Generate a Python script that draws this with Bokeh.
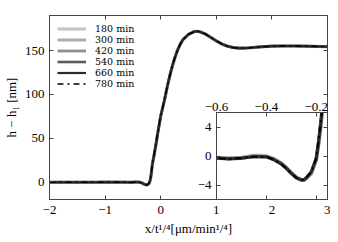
from bokeh.plotting import figure
from bokeh.models import LinearAxis, FixedTicker, Range1d, GridBox, Legend, LegendItem, Column
from bokeh.embed import file_html
from bokeh.resources import INLINE

# ---------------- data ----------------
xs = [-2.0, -1.8, -1.6, -1.4, -1.2, -1.0, -0.8, -0.6,
      -0.55, -0.5, -0.45, -0.4,
      -0.37, -0.34, -0.32, -0.30, -0.28, -0.26, -0.25, -0.24, -0.22, -0.20,
      -0.19, -0.18, -0.17, -0.15, -0.12, -0.09, -0.06, -0.03, 0.0,
      0.03, 0.06, 0.09, 0.12, 0.16, 0.20, 0.25, 0.30, 0.35, 0.40,
      0.50, 0.60, 0.65, 0.70, 0.80, 0.90, 1.00,
      1.10, 1.20, 1.30, 1.40, 1.50, 1.60, 1.80, 2.00,
      2.20, 2.40, 2.60, 2.80, 3.00]

h180 = [-0.3, -0.2, -0.3, -0.2, -0.3, -0.2, -0.1, -0.2,
        -0.4, -0.3, 0.1, 0.0,
        -0.4, -1.0, -1.6, -2.3, -2.9, -3.25, -3.3, -3.1, -2.4, -0.6,
        1.8, 4.6, 9.0, 20, 30, 41, 53, 64, 75,
        83, 91, 100, 109, 120, 130, 141, 150, 157, 162.5,
        168.5, 171.5, 172, 171.5, 169, 165, 161,
        157.5, 155, 153.5, 152.8, 152.8, 153.2, 154.3, 155,
        155.3, 155.2, 155, 154.7, 154.4]
h300 = [-0.3, -0.2, -0.2, -0.3, -0.2, -0.3, -0.2, -0.3,
        -0.3, -0.2, 0.0, -0.1,
        -0.5, -1.1, -1.7, -2.4, -3.0, -3.3, -3.35, -3.1, -2.3, -0.4,
        2.0, 5.0, 9.5, 20.5, 30.5, 41.5, 53, 64, 75,
        83, 91, 100, 109, 120, 130, 141, 150, 157, 162.5,
        168.5, 171.5, 172, 171.5, 169, 165, 161,
        157.5, 155, 153.5, 152.9, 152.9, 153.3, 154.3, 155,
        155.3, 155.2, 155, 154.7, 154.4]
h420 = [-0.2, -0.3, -0.2, -0.3, -0.2, -0.2, -0.2, -0.3,
        -0.3, -0.3, 0.0, -0.1,
        -0.4, -1.0, -1.6, -2.3, -3.0, -3.3, -3.3, -3.1, -2.4, -0.5,
        1.9, 4.8, 9.2, 20, 30, 41, 53, 64, 75,
        83, 91, 100, 109, 120, 130, 141, 150, 157, 162.5,
        168.5, 171.6, 172.1, 171.6, 169, 165, 161,
        157.5, 155, 153.5, 152.8, 152.8, 153.2, 154.3, 155,
        155.3, 155.2, 155, 154.7, 154.4]
h540 = [-0.3, -0.3, -0.3, -0.3, -0.3, -0.2, -0.2, -0.3,
        -0.4, -0.3, -0.1, -0.1,
        -0.5, -1.1, -1.7, -2.4, -3.0, -3.3, -3.3, -3.0, -2.2, -0.3,
        2.2, 5.2, 9.6, 20.5, 30.5, 41.5, 53, 64.5, 75.5,
        83.5, 91.5, 100.5, 109.5, 120.5, 130.5, 141, 150, 157, 162.5,
        168.5, 171.5, 172, 171.5, 169, 165, 161,
        157.5, 155, 153.4, 152.8, 152.8, 153.2, 154.2, 155,
        155.2, 155.2, 155, 154.7, 154.4]
h660 = [-0.3, -0.3, -0.3, -0.3, -0.3, -0.3, -0.3, -0.3,
        -0.4, -0.3, -0.1, -0.1,
        -0.5, -1.1, -1.7, -2.4, -3.0, -3.3, -3.3, -3.0, -2.2, -0.3,
        2.2, 5.2, 9.6, 20.5, 30.5, 41.5, 53, 64.5, 75.5,
        83.5, 91.5, 100.5, 109.5, 120.5, 130.5, 141, 150, 157, 162.5,
        168.5, 171.5, 172, 171.5, 169, 165, 161,
        157.5, 155, 153.4, 152.8, 152.8, 153.2, 154.2, 155,
        155.2, 155.2, 155, 154.7, 154.4]
h780 = [-0.3, -0.3, -0.3, -0.3, -0.3, -0.3, -0.3, -0.3,
        -0.4, -0.3, -0.1, -0.1,
        -0.5, -1.1, -1.7, -2.4, -3.0, -3.3, -3.3, -3.0, -2.2, -0.3,
        2.2, 5.2, 9.6, 20.5, 30.5, 41.5, 53, 64.5, 75.5,
        83.5, 91.5, 100.5, 109.5, 120.5, 130.5, 141, 150, 157, 162.5,
        168.5, 171.5, 172, 171.5, 169, 165, 161,
        157.5, 155, 153.4, 152.8, 152.8, 153.2, 154.2, 155,
        155.2, 155.2, 155, 154.7, 154.4]

series_names = ["180 min", "300 min", "420 min", "540 min", "660 min", "780 min"]
series_values = [h180, h300, h420, h540, h660, h780]
series_colors = ["#c6c6c6", "#acacac", "#8e8e8e", "#5c5c5c", "#2a2a2a", "#000000"]
series_widths = [3.2, 3.0, 2.8, 2.6, 2.2, 1.4]
series_dashes = ["solid", "solid", "solid", "solid", "solid", "dashdot"]

main_xticks = [-2, -1, 0, 1, 2, 3]
main_xlabels = ["\u22122", "\u22121", "0", "1", "2", "3"]
main_yticks = [0, 50, 100, 150]
main_ylabels = ["0", "50", "100", "150"]
inset_xticks = [-0.6, -0.4, -0.2]
inset_xlabels = ["\u22120.6", "\u22120.4", "\u22120.2"]
inset_yticks = [-4, 0, 4]
inset_ylabels = ["\u22124", "0", "4"]

x_title = "x/t\u00b9/\u2074[\u03bcm/min\u00b9/\u2074]"
y_title = "h \u2212 h\u2081 [nm]"

# ---------------- styling helpers ----------------
AX = "#444444"
FONT = "Liberation Serif"


def style_axis(ax, ticks, labels, show):
    ax.ticker = FixedTicker(ticks=ticks)
    ax.major_label_overrides = {t: (l if show else "") for t, l in zip(ticks, labels)}
    ax.major_tick_in = 4
    ax.major_tick_out = 0
    ax.minor_tick_line_color = None
    ax.axis_line_color = AX
    ax.major_tick_line_color = AX
    ax.major_label_text_font = FONT
    ax.major_label_text_color = "black"
    if show:
        ax.major_label_text_font_size = "13px"
        ax.major_label_standoff = 5
    else:
        ax.major_label_text_font_size = "0px"
        ax.major_label_standoff = 0


W, H = 330, 242
BOTTOM = 43

# ---------------- main figure ----------------
p = figure(width=W, height=H, x_range=Range1d(-2, 3), y_range=Range1d(-20, 190),
           output_backend="svg", toolbar_location=None,
           min_border_left=49, min_border_right=3, min_border_top=15, min_border_bottom=BOTTOM,
           background_fill_color="white", border_fill_color="white",
           outline_line_color=AX)
p.xgrid.visible = False
p.ygrid.visible = False

style_axis(p.xaxis[0], main_xticks, main_xlabels, True)
p.xaxis[0].major_label_standoff = 6
style_axis(p.yaxis[0], main_yticks, main_ylabels, True)
p.xaxis[0].axis_label = x_title
p.yaxis[0].axis_label = y_title
for ax in (p.xaxis[0], p.yaxis[0]):
    ax.axis_label_text_font = FONT
    ax.axis_label_text_font_size = "13px"
    ax.axis_label_text_font_style = "normal"
    ax.axis_label_text_color = "black"
    ax.axis_label_standoff = 3
p.xaxis[0].axis_label_standoff = 4

top_ax = LinearAxis()
style_axis(top_ax, main_xticks, main_xlabels, False)
p.add_layout(top_ax, "above")
right_ax = LinearAxis()
style_axis(right_ax, main_yticks, main_ylabels, False)
p.add_layout(right_ax, "right")

items = []
for name, ys, c, w, d in zip(series_names, series_values, series_colors, series_widths, series_dashes):
    r = p.line(xs, ys, line_color=c, line_width=w, line_dash=d)
    items.append(LegendItem(label=name, renderers=[r]))

legend = Legend(items=items, location="top_left", margin=8, padding=0, spacing=0,
                glyph_width=29, glyph_height=9, label_height=9, label_standoff=9,
                label_text_font="DejaVu Serif", label_text_font_size="9.5px",
                label_text_color="black",
                border_line_color=None, background_fill_alpha=0)
p.add_layout(legend)

# ---------------- inset ----------------
q = figure(width=W, height=H, x_range=Range1d(-0.6, -0.155), y_range=Range1d(-6, 6),
           output_backend="svg", toolbar_location=None, x_axis_location="above",
           min_border_left=216, min_border_right=3, min_border_top=112, min_border_bottom=BOTTOM,
           background_fill_color="white", border_fill_color=None,
           outline_line_color=AX)
q.xgrid.visible = False
q.ygrid.visible = False
style_axis(q.xaxis[0], inset_xticks, inset_xlabels, True)
q.xaxis[0].major_label_standoff = 2
style_axis(q.yaxis[0], inset_yticks, inset_ylabels, True)
qb = LinearAxis()
style_axis(qb, inset_xticks, inset_xlabels, False)
q.add_layout(qb, "below")
qr = LinearAxis()
style_axis(qr, inset_yticks, inset_ylabels, False)
q.add_layout(qr, "right")

for ys, c, w, d in zip(series_values, series_colors, series_widths, series_dashes):
    q.line(xs, ys, line_color=c, line_width=w + 0.6, line_dash=d)

grid = GridBox(children=[(Column(children=[p]), 0, 0), (Column(children=[q]), 0, 0)])

open("out.html", "w").write(file_html(grid, INLINE))
